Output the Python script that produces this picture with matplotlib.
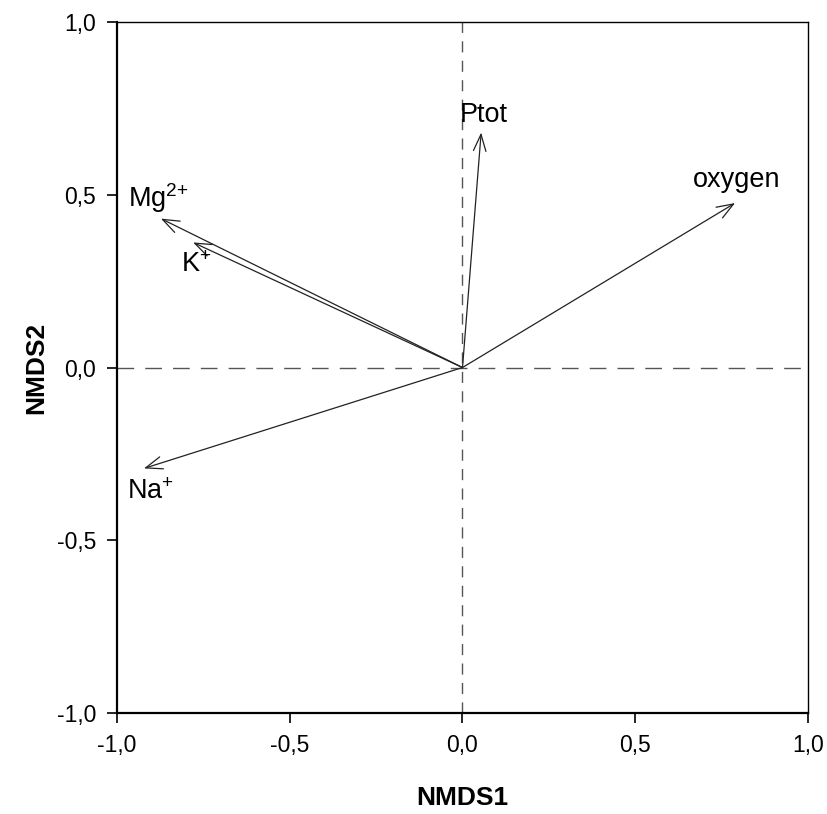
import matplotlib
matplotlib.use("Agg")
import matplotlib.pyplot as plt
import matplotlib.ticker as mticker

plt.rcParams["font.family"] = ["Liberation Sans", "DejaVu Sans"]
plt.rcParams["mathtext.default"] = "regular"

# vector end points (NMDS1, NMDS2)
variables = ["Mg$^{2{+}}$", "K$^{{+}}$", "Na$^{{+}}$", "Ptot", "oxygen"]
nmds1 = [-0.873, -0.780, -0.922, 0.054, 0.789]
nmds2 = [0.431, 0.362, -0.292, 0.680, 0.476]
# label anchor (left, centre) in data units
label_x = [-0.968, -0.815, -0.971, -0.007, 0.667]
label_y = [0.49, 0.297, -0.36, 0.73, 0.543]
ticks = [-1.0, -0.5, 0.0, 0.5, 1.0]

fig = plt.figure(figsize=(8.27, 8.14), dpi=100)
ax = fig.add_axes([0.1415, 0.124, 0.8355, 0.849])

ax.axhline(0, color="#555555", linestyle=(0, (12, 8)), linewidth=1.0)
ax.axvline(0, color="#555555", linestyle=(0, (8, 6)), linewidth=1.0)

for name, x, y, lx, ly in zip(variables, nmds1, nmds2, label_x, label_y):
    ax.annotate("", xy=(x, y), xytext=(0, 0),
                arrowprops=dict(arrowstyle="->,head_length=1.2,head_width=0.45",
                                color="#222222", linewidth=0.9,
                                shrinkA=0, shrinkB=0))
    ax.text(lx, ly, name, fontsize=19.5, ha="left", va="center")

ax.set_xlim(-1, 1)
ax.set_ylim(-1, 1)
ax.set_xticks(ticks)
ax.set_yticks(ticks)
fmt = mticker.FuncFormatter(lambda v, p: f"{v:.1f}".replace(".", ","))
ax.xaxis.set_major_formatter(fmt)
ax.yaxis.set_major_formatter(fmt)
ax.tick_params(direction="out", length=7, width=1.2, labelsize=16.5, pad=8)
ax.tick_params(top=False, right=False)
for side in ["left", "bottom"]:
    ax.spines[side].set_linewidth(1.6)
for side in ["top", "right"]:
    ax.spines[side].set_linewidth(1.0)

ax.set_xlabel("NMDS1", fontsize=19, fontweight="bold", labelpad=21)
ax.set_ylabel("NMDS2", fontsize=19, fontweight="bold", labelpad=6)

fig.savefig("out.png", dpi=100)
